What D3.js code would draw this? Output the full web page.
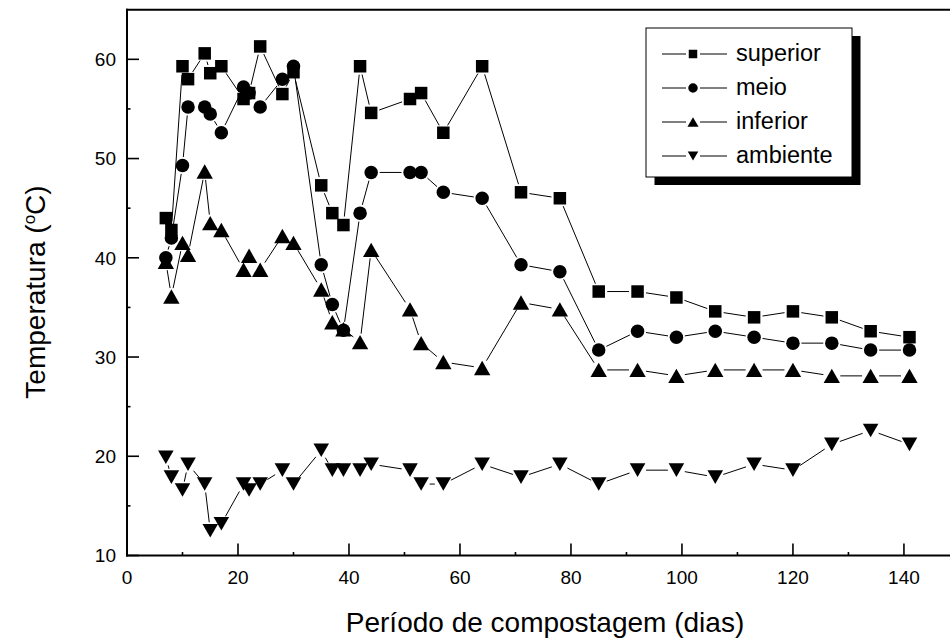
<!DOCTYPE html>
<html>
<head>
<meta charset="utf-8">
<script src="https://cdn.jsdelivr.net/npm/d3@7"></script>
<style>
  html, body { margin: 0; padding: 0; background: #fff; }
  svg { display: block; font-family: "Liberation Sans", Arial, Helvetica, sans-serif; }
</style>
</head>
<body>
<svg id="chart" width="950" height="638"></svg>
<script>
// ---- data ----
const days = [7, 8, 10, 11, 14, 15, 17, 21, 22, 24, 28, 30, 35, 37, 39, 42, 44, 51, 53, 57, 64, 71, 78, 85, 92, 99, 106, 113, 120, 127, 134, 141];
const superior = [44.0, 42.8, 59.3, 58.0, 60.6, 58.6, 59.3, 56.0, 56.6, 61.3, 56.5, 58.7, 47.3, 44.5, 43.3, 59.3, 54.6, 56.0, 56.6, 52.6, 59.3, 46.6, 46.0, 36.6, 36.6, 36.0, 34.6, 34.0, 34.6, 34.0, 32.6, 32.0];
const meio = [40.0, 42.0, 49.3, 55.2, 55.2, 54.5, 52.6, 57.2, 56.6, 55.2, 58.0, 59.3, 39.3, 35.3, 32.7, 44.5, 48.6, 48.6, 48.6, 46.6, 46.0, 39.3, 38.6, 30.7, 32.6, 32.0, 32.6, 32.0, 31.4, 31.4, 30.7, 30.7];
const inferior = [39.6, 36.1, 41.5, 40.3, 48.7, 43.5, 42.8, 38.8, 40.2, 38.8, 42.2, 41.5, 36.8, 33.5, 32.8, 31.5, 40.8, 34.8, 31.4, 29.5, 28.9, 35.5, 34.8, 28.7, 28.7, 28.1, 28.7, 28.7, 28.7, 28.1, 28.1, 28.1];
const ambiente = [19.9, 17.9, 16.6, 19.2, 17.2, 12.5, 13.2, 17.2, 16.6, 17.2, 18.6, 17.2, 20.6, 18.6, 18.6, 18.6, 19.2, 18.6, 17.2, 17.2, 19.2, 17.9, 19.2, 17.2, 18.6, 18.6, 17.9, 19.2, 18.6, 21.2, 22.6, 21.2];

const seriesNames = ["superior", "meio", "inferior", "ambiente"];
const seriesValues = [superior, meio, inferior, ambiente];
const seriesMarkers = ["square", "circle", "triangleUp", "triangleDown"];

const xTicks = [0, 20, 40, 60, 80, 100, 120, 140];
const yTicks = [10, 20, 30, 40, 50, 60];
const xTitle = "Período de compostagem (dias)";
const yTitleMain = "Temperatura (";
const yTitleSup = "o";
const yTitleEnd = "C)";

// ---- layout ----
const svg = d3.select("#chart");
const X0 = 127, X1 = 950, Y0 = 555.5, Y1 = 9.7;
const x = d3.scaleLinear().domain([0, 148.3]).range([X0, X1]);
const y = d3.scaleLinear().domain([10, 65]).range([Y0, Y1]);

// marker drawing
function markerPath(type, cx, cy, s) {
  if (type === "square") {
    const h = s / 2;
    return `M${cx - h},${cy - h}H${cx + h}V${cy + h}H${cx - h}Z`;
  }
  if (type === "circle") {
    const r = s / 2;
    return `M${cx - r},${cy}A${r},${r} 0 1,0 ${cx + r},${cy}A${r},${r} 0 1,0 ${cx - r},${cy}Z`;
  }
  if (type === "triangleUp") {
    const w = s * 1.23 / 2, h = s * 1.08 / 2;
    return `M${cx - w},${cy + h}L${cx + w},${cy + h}L${cx},${cy - h}Z`;
  }
  // triangleDown
  const w = s * 1.17 / 2, h = s * 1.02 / 2;
  return `M${cx - w},${cy - h}L${cx + w},${cy - h}L${cx},${cy + h}Z`;
}
const markerSize = { square: 12.5, circle: 13.5, triangleUp: 13.3, triangleDown: 13.3 };

// ---- lines (with small gaps near markers) ----
const gLines = svg.append("g");
const gap = 8.5;
seriesValues.forEach((vals) => {
  const pts = days.map((d, i) => [x(d), y(vals[i])]);
  for (let i = 0; i < pts.length - 1; i++) {
    const [ax, ay] = pts[i], [bx, by] = pts[i + 1];
    const L = Math.hypot(bx - ax, by - ay);
    if (L <= 2 * gap + 1) continue;
    const ux = (bx - ax) / L, uy = (by - ay) / L;
    gLines.append("line")
      .attr("x1", ax + ux * gap).attr("y1", ay + uy * gap)
      .attr("x2", bx - ux * gap).attr("y2", by - uy * gap)
      .attr("stroke", "#000").attr("stroke-width", 1);
  }
});

// ---- markers ----
const gMarks = svg.append("g");
seriesValues.forEach((vals, si) => {
  const type = seriesMarkers[si];
  gMarks.selectAll(null).data(days.map((d, i) => ({ d, v: vals[i] })))
    .enter().append("path")
    .attr("d", p => markerPath(type, x(p.d), y(p.v), markerSize[type]))
    .attr("fill", "#000");
});

// ---- axes ----
const gAxes = svg.append("g").attr("stroke", "#000");
// frame lines: left, bottom, top
gAxes.append("line").attr("x1", X0).attr("x2", X0).attr("y1", Y1 - 1).attr("y2", Y0 + 1).attr("stroke-width", 2);
gAxes.append("line").attr("x1", X0 - 1).attr("x2", X1).attr("y1", Y0).attr("y2", Y0).attr("stroke-width", 2);
gAxes.append("line").attr("x1", X0 - 1).attr("x2", X1).attr("y1", Y1).attr("y2", Y1).attr("stroke-width", 2);

// x ticks (inward)
const xMinor = d3.range(10, 150, 20);
gAxes.selectAll(null).data(xTicks).enter().append("line")
  .attr("x1", d => x(d)).attr("x2", d => x(d)).attr("y1", Y0).attr("y2", Y0 - 12).attr("stroke-width", 1.6);
gAxes.selectAll(null).data(xMinor).enter().append("line")
  .attr("x1", d => x(d)).attr("x2", d => x(d)).attr("y1", Y0).attr("y2", Y0 - 3.5).attr("stroke-width", 1.6);
// y ticks (inward)
const yMinor = d3.range(15, 65, 10);
gAxes.selectAll(null).data(yTicks).enter().append("line")
  .attr("x1", X0).attr("x2", X0 + 12).attr("y1", d => y(d)).attr("y2", d => y(d)).attr("stroke-width", 1.6);
gAxes.selectAll(null).data(yMinor).enter().append("line")
  .attr("x1", X0).attr("x2", X0 + 3.5).attr("y1", d => y(d)).attr("y2", d => y(d)).attr("stroke-width", 1.6);

// tick labels
const fontTick = 19;
svg.append("g").selectAll(null).data(xTicks).enter().append("text")
  .attr("x", d => x(d)).attr("y", 583.5)
  .attr("text-anchor", "middle").attr("font-size", fontTick).attr("fill", "#000")
  .text(d => d);
svg.append("g").selectAll(null).data(yTicks).enter().append("text")
  .attr("x", 116).attr("y", d => y(d) + 6.8)
  .attr("text-anchor", "end").attr("font-size", fontTick).attr("fill", "#000")
  .text(d => d);

// axis titles
svg.append("text")
  .attr("x", 545).attr("y", 632)
  .attr("text-anchor", "middle").attr("font-size", 28).attr("fill", "#000")
  .text(xTitle);

const yt = svg.append("text")
  .attr("transform", "translate(45,292) rotate(-90)")
  .attr("text-anchor", "middle").attr("font-size", 28).attr("fill", "#000");
yt.append("tspan").text(yTitleMain);
yt.append("tspan").attr("font-size", 17).attr("dy", -10).text(yTitleSup);
yt.append("tspan").attr("dy", 10).text(yTitleEnd);

// ---- legend ----
const lg = svg.append("g");
const LX = 646, LY = 28, LW = 206, LH = 149;
lg.append("rect").attr("x", LX + 8.5).attr("y", LY + 8).attr("width", LW).attr("height", LH).attr("fill", "#000");
lg.append("rect").attr("x", LX).attr("y", LY).attr("width", LW).attr("height", LH)
  .attr("fill", "#fff").attr("stroke", "#000").attr("stroke-width", 1);
const rowY = [54, 88, 122, 156];
const legMarkerSize = { square: 8.5, circle: 9.5, triangleUp: 9, triangleDown: 9 };
seriesNames.forEach((name, i) => {
  const ry = rowY[i];
  lg.append("line").attr("x1", 662).attr("x2", 686).attr("y1", ry).attr("y2", ry).attr("stroke", "#000").attr("stroke-width", 1);
  lg.append("line").attr("x1", 700).attr("x2", 727).attr("y1", ry).attr("y2", ry).attr("stroke", "#000").attr("stroke-width", 1);
  lg.append("path").attr("d", markerPath(seriesMarkers[i], 693, ry, legMarkerSize[seriesMarkers[i]])).attr("fill", "#000");
  lg.append("text").attr("x", 736).attr("y", ry + 7).attr("font-size", 23.5).attr("fill", "#000").text(name);
});
</script>
</body>
</html>
